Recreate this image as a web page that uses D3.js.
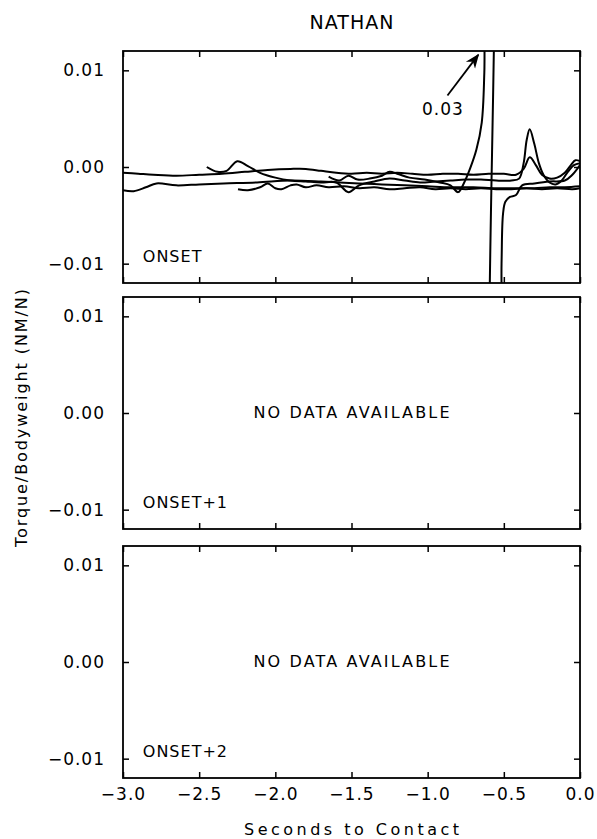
<!DOCTYPE html>
<html>
<head>
<meta charset="utf-8">
<script src="https://cdn.jsdelivr.net/npm/d3@7"></script>
<style>
  body { margin: 0; background: #fff; }
  svg { display: block; font-family: "DejaVu Sans", sans-serif; }
</style>
</head>
<body>
<svg id="chart" width="597" height="839"></svg>
<script>
const title = "NATHAN";
const panelNames = ["ONSET", "ONSET+1", "ONSET+2"];
const xTicks = [-3.0, -2.5, -2.0, -1.5, -1.0, -0.5, 0.0];
const yTicks = [-0.01, 0.0, 0.01];

// traces for the ONSET panel (seconds to contact, torque/bodyweight)
const traceA_t = [-3.0, -2.9, -2.8, -2.65, -2.5, -2.35, -2.2, -2.05, -1.9, -1.8, -1.7, -1.6, -1.5, -1.4, -1.3, -1.2, -1.1, -1.0, -0.9, -0.8, -0.7, -0.6, -0.5, -0.42, -0.37, -0.33, -0.29, -0.25, -0.2, -0.15, -0.1, -0.06, -0.03, 0.0];
const traceA_v = [-0.0006, -0.0007, -0.0008, -0.0009, -0.0008, -0.0007, -0.0005, -0.0003, -0.0002, -0.0002, -0.0004, -0.0006, -0.0007, -0.0006, -0.0007, -0.0006, -0.0007, -0.0008, -0.0007, -0.0007, -0.0008, -0.0007, -0.0007, -0.0008, -0.0002, 0.0010, 0.0002, -0.0008, -0.0012, -0.0011, -0.0006, 0.0002, 0.0007, 0.0006];

const traceB_t = [-3.0, -2.93, -2.85, -2.78, -2.65, -2.5, -2.34, -2.12, -1.9, -1.7, -1.58, -1.45, -1.3, -1.15, -1.0, -0.85, -0.7, -0.55, -0.4, -0.3, -0.2, -0.1, 0.0];
const traceB_v = [-0.0024, -0.0025, -0.0021, -0.0017, -0.0019, -0.0018, -0.0017, -0.0016, -0.0014, -0.0015, -0.0016, -0.0017, -0.0018, -0.0019, -0.0020, -0.0021, -0.0021, -0.0022, -0.0022, -0.0022, -0.0021, -0.0021, -0.0020];

const traceC_t = [-2.45, -2.38, -2.32, -2.25, -2.18, -2.1, -2.0, -1.9, -1.8, -1.7, -1.6, -1.52, -1.45, -1.35, -1.25, -1.15, -1.05, -0.95, -0.85, -0.75, -0.65, -0.55, -0.45, -0.4, -0.37, -0.35, -0.33, -0.3, -0.27, -0.24, -0.2, -0.16, -0.12, -0.08, -0.04, 0.0];
const traceC_v = [0.0000, -0.0005, -0.0004, 0.0006, 0.0001, -0.0006, -0.0011, -0.0014, -0.0015, -0.0016, -0.0016, -0.0026, -0.0019, -0.0015, -0.0012, -0.0014, -0.0016, -0.0015, -0.0014, -0.0013, -0.0013, -0.0014, -0.0014, -0.0012, 0.0004, 0.0028, 0.0039, 0.0024, 0.0004, -0.0008, -0.0016, -0.0018, -0.0014, -0.0005, 0.0002, 0.0004];

const traceD_t = [-2.245, -2.18, -2.1, -2.05, -2.0, -1.96, -1.9, -1.86, -1.8, -1.73, -1.65, -1.55, -1.45, -1.35, -1.25, -1.15, -1.05, -0.95, -0.85, -0.75, -0.65, -0.55, -0.45, -0.35, -0.25, -0.15, -0.05, 0.0];
const traceD_v = [-0.0023, -0.0024, -0.0021, -0.0017, -0.0022, -0.0023, -0.0019, -0.0018, -0.0021, -0.0019, -0.0021, -0.0020, -0.0022, -0.0021, -0.0023, -0.0022, -0.0021, -0.0023, -0.0022, -0.0023, -0.0022, -0.0023, -0.0023, -0.0022, -0.0023, -0.0022, -0.0023, -0.0022];

const traceE_t = [-1.65, -1.58, -1.52, -1.46, -1.38, -1.3, -1.25, -1.2, -1.12, -1.02, -0.92, -0.85, -0.8, -0.76, -0.72, -0.68, -0.645, -0.628, -0.612, -0.595, -0.58, -0.57, -0.55, -0.53, -0.515, -0.505, -0.49, -0.46, -0.42, -0.38, -0.3, -0.2, -0.1, -0.05, 0.0];
const traceE_v = [-0.0010, -0.0014, -0.0009, -0.0013, -0.0012, -0.0009, -0.0005, -0.0007, -0.0011, -0.0013, -0.0016, -0.0019, -0.0026, -0.0016, -0.0001, 0.0018, 0.0046, 0.0098, 0.0300, 0.0300, 0.0300, -0.0300, -0.0300, -0.0300, -0.0100, -0.0048, -0.0036, -0.0031, -0.0029, -0.0019, -0.0017, -0.0015, -0.0014, -0.0008, 0.0002];

const onsetTraces = [
  [traceA_t, traceA_v],
  [traceB_t, traceB_v],
  [traceC_t, traceC_v],
  [traceD_t, traceD_v],
  [traceE_t, traceE_v],
];

const svg = d3.select("#chart");
const left = 123, right = 580;
const panelTops = [51, 297, 546];
const panelH = 232;

const x = d3.scaleLinear().domain([-3, 0]).range([left, right]);

svg.append("text")
  .attr("x", (left + right) / 2)
  .attr("y", 23)
  .attr("text-anchor", "middle")
  .attr("dominant-baseline", "middle")
  .attr("font-size", 19)
  .attr("textLength", 84)
  .text(title);

panelTops.forEach((top, i) => {
  const y = d3.scaleLinear().domain([-0.012, 0.012]).range([top + panelH, top]);
  const g = svg.append("g");

  g.append("clipPath").attr("id", "clip" + i)
    .append("rect")
    .attr("x", left).attr("y", top)
    .attr("width", right - left).attr("height", panelH);

  // ticks on all four sides, pointing inward
  const bottom = g.append("g")
    .attr("transform", `translate(0,${top + panelH})`)
    .call(d3.axisBottom(x).tickValues(xTicks).tickSizeInner(-6).tickSizeOuter(0).tickPadding(10)
      .tickFormat(d => d3.format(".1f")(d).replace("-", "\u2212")));
  if (i < 2) bottom.selectAll("text").remove();
  g.append("g")
    .attr("transform", `translate(0,${top})`)
    .call(d3.axisTop(x).tickValues(xTicks).tickSizeInner(-6).tickSizeOuter(0).tickFormat(""));
  g.append("g")
    .attr("transform", `translate(${left},0)`)
    .call(d3.axisLeft(y).tickValues(yTicks).tickSizeInner(-6).tickSizeOuter(0).tickPadding(18)
      .tickFormat(d => d3.format(".2f")(d).replace("-", "\u2212")));
  g.append("g")
    .attr("transform", `translate(${right},0)`)
    .call(d3.axisRight(y).tickValues(yTicks).tickSizeInner(-6).tickSizeOuter(0).tickFormat(""));

  g.selectAll(".domain").remove();
  g.selectAll(".tick line").attr("stroke", "#000").attr("stroke-width", 1.5);
  g.selectAll(".tick text")
    .attr("font-family", "DejaVu Sans, sans-serif")
    .attr("font-size", 17)
    .attr("letter-spacing", 1)
    .attr("fill", "#000");

  g.append("rect")
    .attr("x", left).attr("y", top)
    .attr("width", right - left).attr("height", panelH)
    .attr("fill", "none").attr("stroke", "#000").attr("stroke-width", 1.8);

  g.append("text")
    .attr("x", x(-2.87)).attr("y", y(-0.0094))
    .attr("dominant-baseline", "middle")
    .attr("font-size", 16)
    .attr("letter-spacing", 1)
    .text(panelNames[i]);

  if (i === 0) {
    const line = d3.line()
      .x(d => x(d[0])).y(d => y(d[1]))
      .curve(d3.curveCatmullRom.alpha(0.5));
    g.append("g").attr("clip-path", `url(#clip${i})`)
      .selectAll("path")
      .data(onsetTraces.map(([ts, vs]) => ts.map((t, k) => [t, vs[k]])))
      .join("path")
      .attr("d", line)
      .attr("fill", "none")
      .attr("stroke", "#000")
      .attr("stroke-width", 2)
      .attr("stroke-linejoin", "round");

    svg.append("defs").append("marker")
      .attr("id", "arrow")
      .attr("viewBox", "0 0 10 10")
      .attr("refX", 9).attr("refY", 5)
      .attr("markerWidth", 8).attr("markerHeight", 8)
      .attr("orient", "auto")
      .append("path").attr("d", "M0,1 L10,5 L0,9 L3,5 Z").attr("fill", "#000");
    g.append("line")
      .attr("x1", x(-0.87)).attr("y1", y(0.0074))
      .attr("x2", x(-0.668)).attr("y2", y(0.0116))
      .attr("stroke", "#000").attr("stroke-width", 1.8)
      .attr("marker-end", "url(#arrow)");
    g.append("text")
      .attr("x", x(-0.9)).attr("y", y(0.0059))
      .attr("text-anchor", "middle")
      .attr("dominant-baseline", "middle")
      .attr("font-size", 17)
      .attr("letter-spacing", 1)
      .text("0.03");
  } else {
    g.append("text")
      .attr("x", x(-1.5)).attr("y", y(0))
      .attr("text-anchor", "middle")
      .attr("dominant-baseline", "middle")
      .attr("font-size", 16)
      .attr("textLength", 196)
      .text("NO DATA AVAILABLE");
  }
});

svg.append("text")
  .attr("x", (left + right) / 2)
  .attr("y", 830)
  .attr("text-anchor", "middle")
  .attr("dominant-baseline", "middle")
  .attr("font-size", 16)
  .attr("textLength", 215)
  .text("Seconds to Contact");

svg.append("text")
  .attr("transform", `translate(22,418) rotate(-90)`)
  .attr("text-anchor", "middle")
  .attr("dominant-baseline", "middle")
  .attr("font-size", 16)
  .attr("textLength", 258)
  .text("Torque/Bodyweight (NM/N)");
</script>
</body>
</html>
